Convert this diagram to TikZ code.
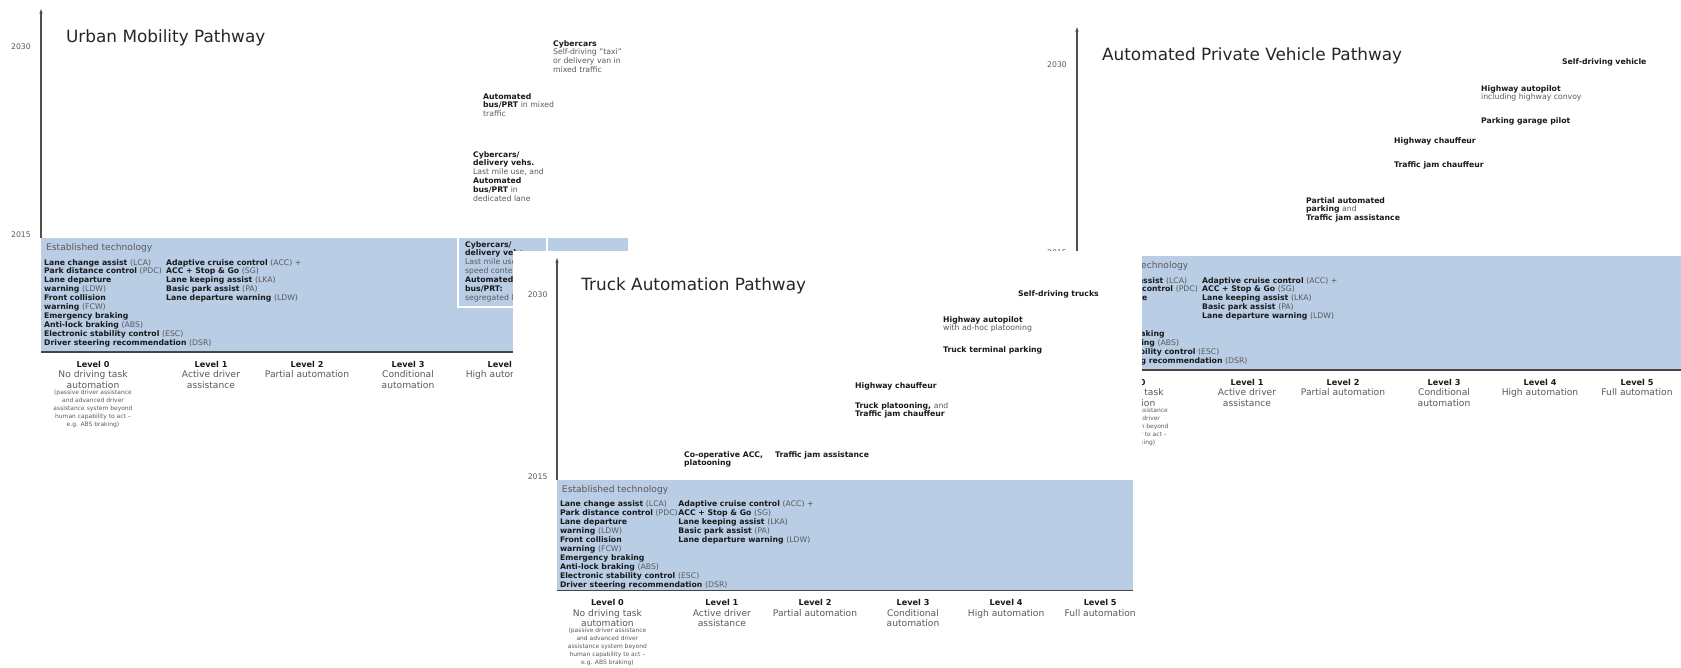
\documentclass[tikz,border=0pt]{standalone}
\usepackage{fontspec}
\setmainfont{DejaVu Sans}
\usetikzlibrary{arrows.meta, positioning}
\definecolor{bandBlue}{RGB}{185, 205, 229}
\definecolor{txtGray}{RGB}{90, 90, 90}
\definecolor{axisGray}{RGB}{80, 80, 80}
\definecolor{edgeGray}{RGB}{70, 70, 70}

\newcommand{\dimtext}[1]{{\mdseries\color{txtGray}#1}}

\tikzset{
  axisline/.style={line width=1.6pt, axisGray, -{Latex[length=8pt, width=5pt]}},
  yearlabel/.style={inner sep=0pt, font=\fontsize{11}{13}\selectfont, text=txtGray},
  titlelabel/.style={anchor=west, inner sep=0pt, font=\fontsize{24}{28}\selectfont, text=black!85},
  bandhead/.style={anchor=west, inner sep=0pt, font=\fontsize{13}{15}\selectfont, text=txtGray},
  bandtext/.style={anchor=north west, align=left, inner sep=0pt, font=\fontsize{11}{12.75}\selectfont\bfseries, text=black!90},
  levelnode/.style={anchor=north, align=center, inner sep=0pt, font=\fontsize{13}{15}\selectfont, text=txtGray},
  levelnote/.style={align=center, inner sep=0pt, font=\fontsize{8.5}{11.6}\selectfont, text=txtGray},
}

% one pathway panel, origin where the time axis meets the band
\newcommand{\pathwaypanel}[3]{%
  \coordinate (#1-base) at (0,0);
  \coordinate (#1-top) at (0,-230);
  \fill[bandBlue] (#1-base) rectangle (#3,114);
  \draw[edgeGray, line width=2.5pt] (0,114) -- (#3,114);
  \draw[axisline] (#1-base) -- (#1-top);
  \node[yearlabel] (#1-y2030) at (-20,-191) {2030};
  \node[yearlabel] (#1-y2015) at (-20,-3) {2015};
  \node[titlelabel] (#1-title) at (25,-200) {#2};
  % established technology
  \node[bandhead] (#1-est) at (5,10) {Established technology};
  \node[bandtext] (#1-colA) at (3,21) {Lane change assist \dimtext{(LCA)}\\
    Park distance control \dimtext{(PDC)}\\
    Lane departure\\
    warning \dimtext{(LDW)}\\
    Front collision\\
    warning \dimtext{(FCW)}\\
    Emergency braking\\
    Anti-lock braking \dimtext{(ABS)}\\
    Electronic stability control \dimtext{(ESC)}\\
    Driver steering recommendation \dimtext{(DSR)}};
  \node[bandtext] (#1-colB) at (125,21) {Adaptive cruise control \dimtext{(ACC) +}\\
    ACC + Stop \& Go \dimtext{(SG)}\\
    Lane keeping assist \dimtext{(LKA)}\\
    Basic park assist \dimtext{(PA)}\\
    Lane departure warning \dimtext{(LDW)}};
  % automation levels
  \foreach \lvx/\lvn/\lvd in {52/0/{No driving task\\automation}, 170/1/{Active driver\\assistance},
      266/2/{Partial automation}, 367/3/{Conditional\\automation}, 463/4/{High automation},
      560/5/{Full automation}}
    \node[levelnode] (#1-l\lvn) at (\lvx,123)
      {{\bfseries\color{black!90}\fontsize{11.6}{15}\selectfont Level \lvn}\\\lvd};
  \node[levelnote, below=1pt of #1-l0] (#1-note) {(passive driver assistance\\and advanced driver\\
    assistance system beyond\\human capability to act --\\e.g. ABS braking)};
}

\begin{document}
\begin{tikzpicture}[x=0.05cm, y=-0.05cm]
\useasboundingbox (0,0) rectangle (1681,668);

% urban mobility
\begin{scope}[shift={(41,238)}]
  \pathwaypanel{urban}{Urban Mobility Pathway}{587}
\end{scope}
\draw[white, line width=1.5pt] (458,238) -- (458,307) -- (547,307) -- (547,238);
\node[bandtext] (urban-box) at (465,241) {Cybercars/\\delivery vehs.\\\dimtext{Last mile use, low}\\
  \dimtext{speed context}\\Automated\\bus/PRT:\\\dimtext{segregated lane}};
\node[bandtext] (urban-cyber) at (553,40) {Cybercars\\\dimtext{Self-driving "taxi"}\\
  \dimtext{or delivery van in}\\\dimtext{mixed traffic}};
\node[bandtext] (urban-bus) at (483,93) {Automated\\bus/PRT \dimtext{in mixed}\\\dimtext{traffic}};
\node[bandtext] (urban-last) at (473,151) {Cybercars/\\delivery vehs.\\\dimtext{Last mile use, and}\\
  Automated\\bus/PRT \dimtext{in}\\\dimtext{dedicated lane}};

% automated private vehicle
\begin{scope}[shift={(1077,256)}]
  \pathwaypanel{apv}{Automated Private Vehicle Pathway}{604}
\end{scope}
\node[bandtext] (apv-self) at (1562,58) {Self-driving vehicle};
\node[bandtext] (apv-auto) at (1481,85) {Highway autopilot\\\dimtext{including highway convoy}};
\node[bandtext] (apv-park) at (1481,117) {Parking garage pilot};
\node[bandtext] (apv-chauf) at (1394,137) {Highway chauffeur};
\node[bandtext] (apv-jam) at (1394,161) {Traffic jam chauffeur};
\node[bandtext] (apv-partial) at (1306,197) {Partial automated\\parking \dimtext{and}\\Traffic jam assistance};

% truck automation, lying on top
\fill[white] (513,251) rectangle (1142,668);
\begin{scope}[shift={(557,480)}, scale=0.97]
  \pathwaypanel{truck}{Truck Automation Pathway}{594}
\end{scope}
\node[bandtext] (truck-self) at (1018,290) {Self-driving trucks};
\node[bandtext] (truck-auto) at (943,316) {Highway autopilot\\\dimtext{with ad-hoc platooning}};
\node[bandtext] (truck-term) at (943,346) {Truck terminal parking};
\node[bandtext] (truck-chauf) at (855,382) {Highway chauffeur};
\node[bandtext] (truck-platoon) at (855,402) {Truck platooning, \dimtext{and}\\Traffic jam chauffeur};
\node[bandtext] (truck-coop) at (684,451) {Co-operative ACC,\\platooning};
\node[bandtext] (truck-jam) at (775,451) {Traffic jam assistance};
\end{tikzpicture}
\end{document}
